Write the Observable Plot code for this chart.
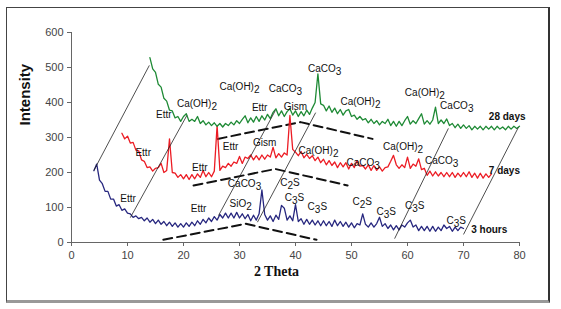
<!DOCTYPE html>
<html><head><meta charset="utf-8">
<script src="https://cdn.jsdelivr.net/npm/d3@7"></script>
<script src="https://cdn.jsdelivr.net/npm/@observablehq/plot@0.6"></script>
<style>
body{margin:0;background:#fff;}
#wrap{position:relative;width:561px;height:309px;}
#frame{position:absolute;left:6px;top:7px;width:541px;height:292px;border:1px solid #444;border-right:2px solid #333;border-bottom:3px solid #999;pointer-events:none;}
#chart{position:absolute;left:0;top:0;}
</style></head><body><div id="wrap"><div id="chart"></div><div id="frame"></div></div>
<script>
// 2-theta grid: each scan sampled every 0.5 degree from its start
const step = 0.5;
const blueStart = 4, redStart = 9, greenStart = 14;

// 3 hours (blue)
const blueY = [205,224,178,168,146,146,124,124,104,108,92,96,84,82,72,76,68,72,62,70,58,66,54,64,52,60,48,58,46,56,44,54,44,56,46,58,48,62,52,66,56,70,60,74,64,80,70,84,70,84,70,86,70,82,68,80,62,78,64,82,150,80,64,76,60,78,66,106,98,64,76,62,108,60,68,52,66,52,64,50,62,48,62,48,60,46,64,48,60,46,58,44,56,42,54,50,82,52,44,56,44,54,72,46,54,40,50,36,48,36,50,44,56,64,44,50,34,46,34,46,32,46,32,44,34,50,40,46,32,44,34,44,40];
// 7 days (red)
const redY = [312,296,304,284,286,264,262,236,232,214,216,204,212,214,226,200,206,296,200,198,186,194,182,194,180,194,182,196,186,206,188,200,188,204,334,206,218,214,226,218,230,226,246,226,244,240,250,236,248,236,250,238,250,244,272,242,254,244,256,250,363,266,258,248,260,242,252,240,248,234,244,228,238,222,234,220,230,214,228,216,228,210,226,214,234,218,220,210,222,206,220,206,216,204,214,216,232,249,222,212,222,214,244,212,224,218,239,208,212,192,204,190,202,190,200,188,200,188,200,186,198,188,200,188,202,186,198,184,198,184,196,186,196];
// 28 days (green)
const greenY = [528,496,486,452,444,412,404,378,376,356,360,346,360,368,346,352,346,360,340,348,336,344,334,342,332,340,330,340,334,344,336,348,340,352,362,342,356,344,360,346,362,350,366,354,372,382,362,376,360,374,382,364,376,360,374,362,378,366,384,400,482,396,392,376,390,372,384,368,380,364,376,380,360,364,352,360,350,354,342,352,340,348,336,346,340,352,334,346,332,346,334,348,360,338,348,340,354,368,338,348,338,350,387,340,350,340,353,334,340,328,338,326,336,326,334,322,332,324,332,322,332,324,332,322,332,324,330,322,332,324,332,326,332];

const seriesNames = ["3 hours","7 days","28 days"];
const seriesColors = ["#27277f","#ec1c24","#1e8a35"];

// guide lines (data units)
const depthLines = [[4.0,206,13.9,506],[10.5,71,20.6,363],[26.25,77,36.4,377],[33.2,58,43.6,371],[57.7,11,67.3,326],[70,23,79.8,329]];
const dashLower = [[16.4,7.7],[31.1,53.4],[43.75,7.7]];
const dashMiddle = [[21.8,163],[36.4,210],[49.3,163]];
const dashUpper = [[26.1,296],[40.9,344],[53.75,296]];

// peak labels [text, x, y]
const greenLabels = [["Ettr",16.5,366],["Ca(OH)2",22.4,396],["Ca(OH)2",30,446],["Ettr",33.6,386],["CaCO3",38.2,440],["Gism",40,387],["CaCO3",45.2,496],["Ca(OH)2",51.6,401],["Ca(OH)2",63.1,429],["CaCO3",68.8,391]];
const redLabels = [["Ettr",12.8,256],["Ettr",22.9,213],["Ettr",28.4,274],["Gism",34.5,284],["Ca(OH)2",44.1,263],["CaCO3",52.1,229],["Ca(OH)2",59.2,274],["CaCO3",66.1,234]];
const blueLabels = [["Ettr",10.1,125],["Ettr",22.7,96],["CaCO3",30.9,168],["SiO2",30.2,111],["C2S",39,172],["C3S",39.8,129],["C3S",43.9,101],["C2S",51.9,115],["C3S",56.2,87],["C3S",61.3,106],["C3S",68.7,63]];
const dayLabels = [["28 days",77.8,358],["7 days",77.3,204],["3 hours",74.6,36]];

const xTicks = [0,10,20,30,40,50,60,70,80];
const yTicks = [0,100,200,300,400,500,600];

function toPts(start, ys, name){ return ys.map((y,i)=>({x:start+i*step, y, s:name})); }
const spectra = [
  ...toPts(blueStart, blueY, "3 hours"),
  ...toPts(redStart, redY, "7 days"),
  ...toPts(greenStart, greenY, "28 days")
];
const allLabels = [...greenLabels, ...redLabels, ...blueLabels].map(([t,x,y])=>({t,x,y}));
const days = dayLabels.map(([t,x,y])=>({t,x,y}));
const depth = depthLines.map(([x1,y1,x2,y2])=>({x1,y1,x2,y2}));
const dashes = [dashLower,dashMiddle,dashUpper].flatMap((a,k)=>a.map(([x,y])=>({x,y,k})));

const chart = Plot.plot({
  width:561, height:309,
  marginLeft:71, marginRight:42, marginTop:32, marginBottom:67,
  x:{domain:[0,80]},
  y:{domain:[0,600]},
  color:{domain:seriesNames, range:seriesColors},
  style:{fontFamily:"'Liberation Sans', Arial, sans-serif", fontSize:"11px", color:"#333", background:"transparent"},
  marks:[
    Plot.axisX({ticks:xTicks, tickSize:4, tickPadding:5, label:null, stroke:"#666", fill:"#444"}),
    Plot.axisY({ticks:yTicks, tickSize:4, tickPadding:4, label:null, stroke:"#666", fill:"#444"}),
    Plot.ruleY([0], {stroke:"#666"}),
    Plot.ruleX([0], {stroke:"#666"}),
    Plot.line(dashes, {x:"x", y:"y", z:"k", stroke:"#111", strokeWidth:2, strokeDasharray:"9,5"}),
    Plot.line(spectra, {x:"x", y:"y", z:"s", stroke:"s", strokeWidth:1.3}),
    Plot.link(depth, {x1:"x1", y1:"y1", x2:"x2", y2:"y2", stroke:"#222", strokeWidth:0.8}),
    Plot.text(allLabels, {x:"x", y:"y", text:"t", fontSize:10, fill:"#111"}),
    Plot.text(days, {x:"x", y:"y", text:"t", fontSize:10, fontWeight:"bold", fill:"#111"}),
    Plot.text(["Intensity"], {frameAnchor:"left", dx:-46, dy:-12, rotate:-90, fontSize:15, fontWeight:"bold", fill:"#111"}),
    Plot.text(["2 Theta"], {frameAnchor:"bottom", dx:-19, dy:33, fontSize:14, fontWeight:"bold", fontFamily:"'Liberation Serif', 'Times New Roman', serif", fill:"#111"})
  ]
});

d3.select(chart).selectAll("text").each(function(){
  const t = this.textContent;
  if (this.childElementCount > 0 || !/^(Ca|Si|C\d)/.test(t)) return;
  const parts = t.split(/(\d)/).filter(s=>s!=="");
  this.textContent = "";
  let down = false;
  for (const p of parts) {
    const ts = document.createElementNS("http://www.w3.org/2000/svg","tspan");
    const isD = /^\d$/.test(p);
    if (isD && !down) { ts.setAttribute("dy","0.3em"); down = true; }
    else if (!isD && down) { ts.setAttribute("dy","-0.3em"); down = false; }
    ts.textContent = p;
    this.appendChild(ts);
  }
});
document.getElementById("chart").appendChild(chart);
</script></body></html>
